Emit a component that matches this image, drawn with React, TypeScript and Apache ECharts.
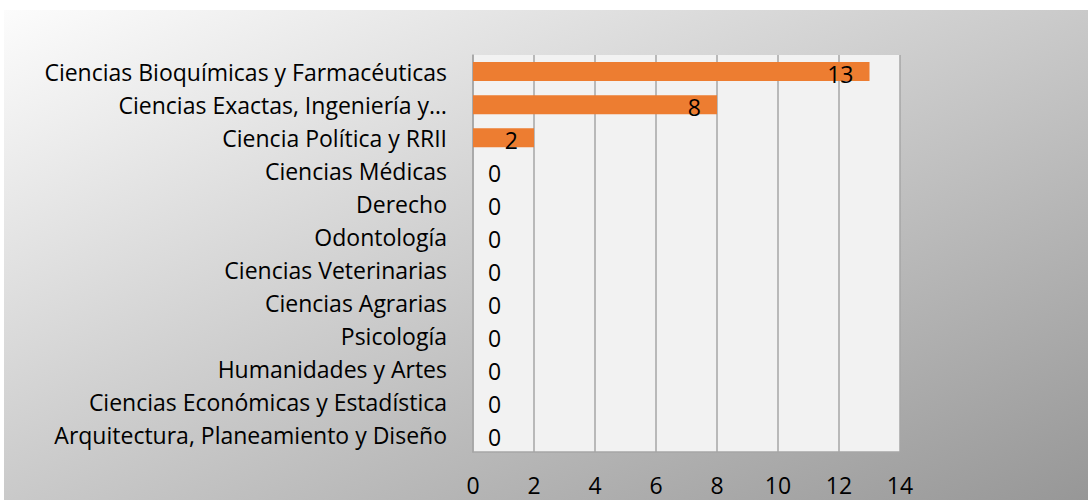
import React, { useEffect, useRef } from "react";
import * as echarts from "echarts";

const categories = [
  "Ciencias Bioquímicas y Farmacéuticas",
  "Ciencias Exactas, Ingeniería y…",
  "Ciencia Política y RRII",
  "Ciencias Médicas",
  "Derecho",
  "Odontología",
  "Ciencias Veterinarias",
  "Ciencias Agrarias",
  "Psicología",
  "Humanidades y Artes",
  "Ciencias Económicas y Estadística",
  "Arquitectura, Planeamiento y Diseño",
];
const values = [13, 8, 2, 0, 0, 0, 0, 0, 0, 0, 0, 0];
const xTicks = { min: 0, max: 14, interval: 2 };

const FONT = "'Open Sans', sans-serif";

export default function App() {
  const ref = useRef<HTMLDivElement>(null);
  useEffect(() => {
    document.body.style.margin = "0";
    const chart = echarts.init(ref.current!, null, { renderer: "svg" });
    const data = values.map((v) => ({
      value: v,
      label:
        v === 0
          ? { position: "right", distance: 15 }
          : { position: "insideRight", distance: 16 },
    }));
    chart.setOption({
      animation: false,
      graphic: [
        {
          type: "rect",
          z: -10,
          shape: { x: 4, y: 10, width: 1084, height: 490 },
          style: {
            fill: new echarts.graphic.LinearGradient(0, 0, 1, 1, [
              { offset: 0, color: "#fcfcfc" },
              { offset: 1, color: "#979797" },
            ]),
          },
          silent: true,
        },
      ],
      grid: {
        left: 473,
        right: 188,
        top: 55,
        bottom: 48,
        show: true,
        backgroundColor: "#f2f2f2",
        borderWidth: 0,
      },
      xAxis: {
        type: "value",
        min: xTicks.min,
        max: xTicks.max,
        interval: xTicks.interval,
        axisLine: { show: true, lineStyle: { color: "#a6a6a6", width: 1.5 } },
        axisTick: { show: false },
        splitLine: { show: true, lineStyle: { color: "#a6a6a6", width: 1.5 } },
        axisLabel: { color: "#000", fontFamily: FONT, fontSize: 23, margin: 21 },
      },
      yAxis: {
        type: "category",
        inverse: true,
        data: categories,
        axisLine: { show: true, lineStyle: { color: "#a6a6a6", width: 1.5 } },
        axisTick: { show: false },
        axisLabel: { color: "#000", fontFamily: FONT, fontSize: 23, margin: 26 },
      },
      series: [
        {
          type: "bar",
          data,
          barWidth: 19,
          itemStyle: { color: "#ed7d31" },
          label: {
            show: true,
            color: "#000",
            fontFamily: FONT,
            fontSize: 23,
            offset: [0, 2],
          },
        },
      ],
    });
    return () => chart.dispose();
  }, []);
  return <div ref={ref} style={{ width: 1088, height: 500 }} />;
}
